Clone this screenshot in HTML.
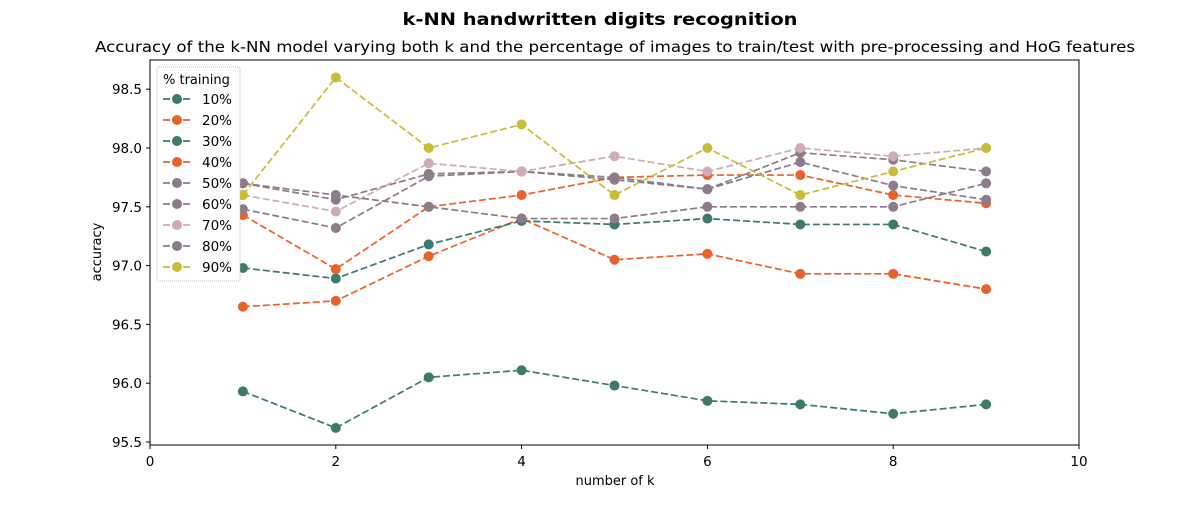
<!DOCTYPE html>
<html><head><meta charset="utf-8"><style>
body{margin:0;background:#fff;width:1200px;height:500px;overflow:hidden}
text{font-family:"DejaVu Sans","Liberation Sans",sans-serif;fill:#000}
</style></head><body>
<svg id="s" width="1200" height="500" xmlns="http://www.w3.org/2000/svg">
<text x="600" y="25" text-anchor="middle" font-size="17" font-weight="bold" textLength="395" lengthAdjust="spacingAndGlyphs">k-NN handwritten digits recognition</text>
<text x="615" y="52" text-anchor="middle" font-size="15.5" textLength="1040" lengthAdjust="spacingAndGlyphs">Accuracy of the k-NN model varying both k and the percentage of images to train/test with pre-processing and HoG features</text>
<rect x="150" y="60" width="929" height="385" fill="none" stroke="#000" stroke-width="1"/>
<g id="ticks"></g>
<g id="series"></g>
<text x="615" y="485" text-anchor="middle" font-size="13">number of k</text>
<text transform="translate(101,252) rotate(-90)" text-anchor="middle" font-size="13">accuracy</text>
<g id="legend"></g>
</svg>
<script>
var NS="http://www.w3.org/2000/svg";
function X(k){return 150+92.9*k}
function Y(v){return 89.2+(98.5-v)*117.6}
function el(t,a,p,txt){var e=document.createElementNS(NS,t);for(var k in a)e.setAttribute(k,a[k]);if(txt!=null)e.textContent=txt;p.appendChild(e);return e}
var tk=document.getElementById('ticks');
[0,2,4,6,8,10].forEach(function(k){var x=X(k);el('line',{x1:x,x2:x,y1:445,y2:449,stroke:'#000'},tk);el('text',{x:x,y:466,'text-anchor':'middle','font-size':13.5},tk,k)});
[95.5,96,96.5,97,97.5,98,98.5].forEach(function(v){var y=Y(v);el('line',{x1:146,x2:150,y1:y,y2:y,stroke:'#000'},tk);el('text',{x:142,y:y+5,'text-anchor':'end','font-size':13.5},tk,v.toFixed(1))});
var G='#3d7a6a',O='#e8622c',M='#8c7b8a',P='#cfaab7',Yl='#c8bc38';
var S=[
[G,[95.93,95.62,96.05,96.11,95.98,95.85,95.82,95.74,95.82]],
[O,[96.65,96.70,97.08,97.40,97.05,97.10,96.93,96.93,96.80]],
[G,[96.98,96.89,97.18,97.38,97.35,97.40,97.35,97.35,97.12]],
[O,[97.43,96.97,97.50,97.60,97.75,97.77,97.77,97.60,97.53]],
[M,[97.48,97.32,97.76,97.80,97.75,97.65,97.96,97.90,97.80]],
[M,[97.70,97.56,97.78,97.80,97.73,97.65,97.88,97.68,97.56]],
[P,[97.60,97.46,97.87,97.80,97.93,97.80,98.00,97.93,98.00]],
[M,[97.70,97.60,97.50,97.40,97.40,97.50,97.50,97.50,97.70]],
[Yl,[97.60,98.60,98.00,98.20,97.60,98.00,97.60,97.80,98.00]]
];
var sg=document.getElementById('series');
S.forEach(function(s){var pts=s[1].map(function(v,i){return X(i+1)+','+Y(v)}).join(' ');
el('polyline',{points:pts,fill:'none',stroke:s[0],'stroke-width':1.7,'stroke-dasharray':'7,3'},sg);
s[1].forEach(function(v,i){el('circle',{cx:X(i+1),cy:Y(v),r:5,fill:s[0]},sg)})});
var lg=document.getElementById('legend');
el('rect',{x:157,y:67,width:83,height:214,fill:'#fff',stroke:'#bbb','stroke-dasharray':'1,1',rx:2},lg);
el('text',{x:163,y:84,'font-size':13},lg,'% training');
var labs=['10%','20%','30%','40%','50%','60%','70%','80%','90%'];
labs.forEach(function(l,i){var y=100+i*21;var c=S[i][0];
el('line',{x1:163,x2:191,y1:y-1,y2:y-1,stroke:c,'stroke-width':1.7,'stroke-dasharray':'7,3'},lg);
el('circle',{cx:177,cy:y-1,r:5,fill:c},lg);
el('text',{x:232,y:y+4,'text-anchor':'end','font-size':13.5},lg,l)});
</script>
</body></html>
